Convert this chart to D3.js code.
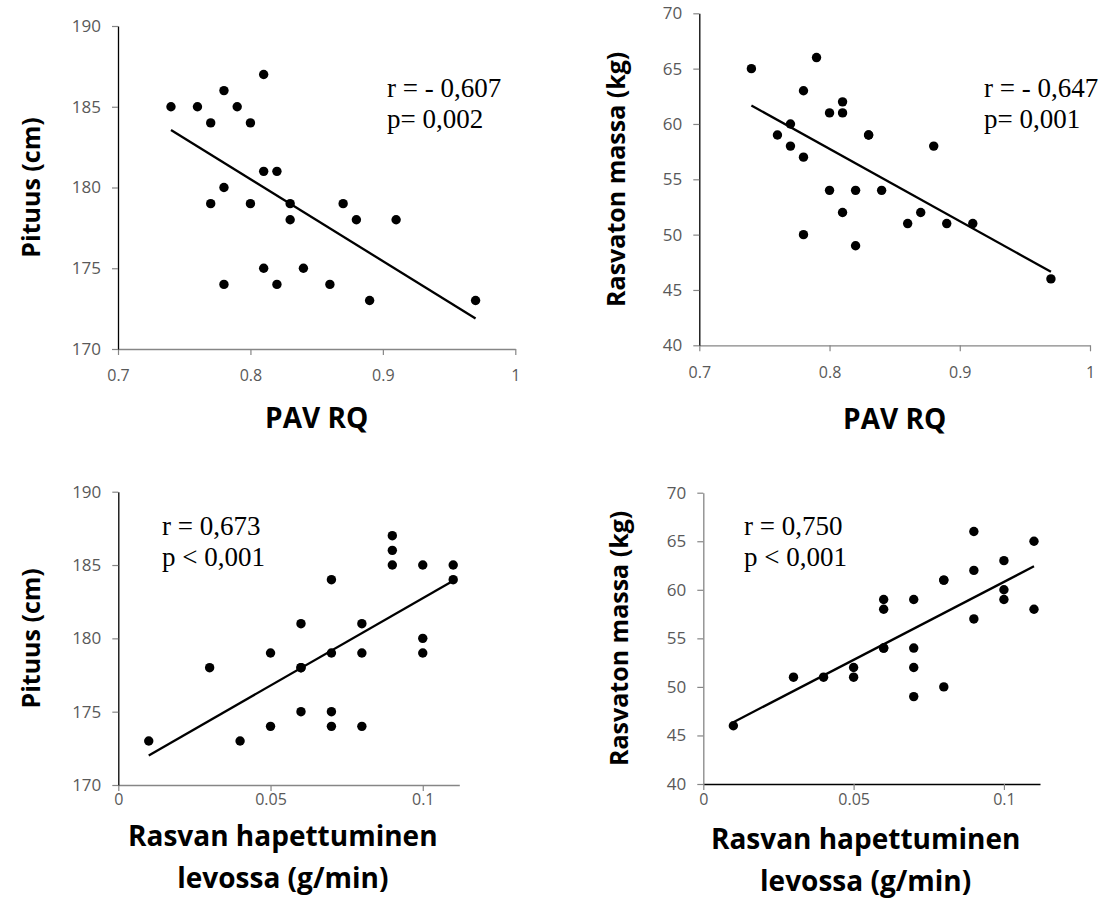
<!DOCTYPE html>
<html>
<head>
<meta charset="utf-8">
<script src="https://cdn.jsdelivr.net/npm/d3@7/dist/d3.min.js"></script>
<style>
  html, body { margin: 0; padding: 0; background: #fff; }
  svg { display: block; }
</style>
</head>
<body>
<svg id="chart" width="1104" height="917"></svg>
<script>
// PAV RQ vs height (24 subjects)
const rqForHeight = [0.74,0.76,0.77,0.78,0.79,0.80,0.81,0.81,0.82,0.78,0.77,0.80,0.83,0.83,0.87,0.88,0.91,0.81,0.84,0.78,0.82,0.86,0.89,0.97];
const heightByRq  = [185,185,184,186,185,184,187,181,181,180,179,179,179,178,179,178,178,175,175,174,174,174,173,173];

// PAV RQ vs fat-free mass
const rqForMass = [0.74,0.79,0.78,0.76,0.77,0.77,0.78,0.80,0.81,0.81,0.83,0.83,0.88,0.80,0.81,0.82,0.84,0.78,0.82,0.86,0.87,0.89,0.91,0.97];
const massByRq  = [65,66,63,59,60,58,57,61,62,61,59,59,58,54,52,54,54,50,49,51,52,51,51,46];

// Resting fat oxidation vs height
const fatForHeight = [0.01,0.03,0.04,0.05,0.05,0.06,0.06,0.06,0.06,0.07,0.07,0.07,0.07,0.08,0.08,0.08,0.09,0.09,0.09,0.10,0.10,0.10,0.11,0.11];
const heightByFat  = [173,178,173,179,174,181,178,178,175,184,179,175,174,181,179,174,187,186,185,185,180,179,185,184];

// Resting fat oxidation vs fat-free mass
const fatForMass = [0.01,0.03,0.04,0.05,0.05,0.06,0.06,0.06,0.06,0.07,0.07,0.07,0.07,0.08,0.08,0.08,0.09,0.09,0.09,0.10,0.10,0.10,0.11,0.11];
const massByFat  = [46,51,51,52,51,59,58,54,54,59,54,52,49,50,61,61,57,62,66,59,60,63,58,65];

// Axis ticks
const rqTicks = [0.7, 0.8, 0.9, 1];
const fatTicks = [0, 0.05, 0.1];
const heightTicks = [170, 175, 180, 185, 190];
const massTicks = [40, 45, 50, 55, 60, 65, 70];

// Titles and statistics
const heightTitle = "Pituus (cm)";
const massTitle = "Rasvaton massa (kg)";
const rqTitle = ["PAV RQ"];
const fatTitle = ["Rasvan hapettuminen", "levossa (g/min)"];
const stats1 = ["r = - 0,607", "p= 0,002"];
const stats2 = ["r = - 0,647", "p= 0,001"];
const stats3 = ["r = 0,673", "p < 0,001"];
const stats4 = ["r = 0,750", "p < 0,001"];

const panels = [
  { xs: rqForHeight, ys: heightByRq, xDomain: [0.7, 1], yDomain: [170, 190],
    xTicks: rqTicks, yTicks: heightTicks, left: 118, right: 515.3, top: 26, bottom: 349,
    xPad: 15, yTitle: heightTitle, yTitleX: 40, xTitle: rqTitle, xTitleY: [428],
    stats: stats1, statsX: 387, statsY: 97, yAxisColor: "#000", xAxisColor: "#868686" },
  { xs: rqForMass, ys: massByRq, xDomain: [0.7, 1], yDomain: [40, 70],
    xTicks: rqTicks, yTicks: massTicks, left: 699.3, right: 1090, top: 13.3, bottom: 345.3,
    xPad: 15, yTitle: massTitle, yTitleX: 625, xTitle: rqTitle, xTitleY: [429],
    stats: stats2, statsX: 984, statsY: 97, yAxisColor: "#000", xAxisColor: "#868686" },
  { xs: fatForHeight, ys: heightByFat, xDomain: [0, 0.112], yDomain: [170, 190],
    xTicks: fatTicks, yTicks: heightTicks, left: 118.3, right: 459.3, top: 491.7, bottom: 785,
    xPad: 3, yTitle: heightTitle, yTitleX: 40, xTitle: fatTitle, xTitleY: [846, 888],
    stats: stats3, statsX: 162, statsY: 535, yAxisColor: "#000", xAxisColor: "#868686" },
  { xs: fatForMass, ys: massByFat, xDomain: [0, 0.112], yDomain: [40, 70],
    xTicks: fatTicks, yTicks: massTicks, left: 703.3, right: 1040, top: 492.7, bottom: 784,
    xPad: 4, yTitle: massTitle, yTitleX: 628, xTitle: fatTitle, xTitleY: [849, 891],
    stats: stats4, statsX: 744, statsY: 535, yAxisColor: "#868686", xAxisColor: "#000" }
];

// Ordinary least-squares fit
function linearFit(xs, ys) {
  const mx = d3.mean(xs), my = d3.mean(ys);
  let sxy = 0, sxx = 0;
  xs.forEach((x, i) => { sxy += (x - mx) * (ys[i] - my); sxx += (x - mx) * (x - mx); });
  const slope = sxy / sxx;
  return x => my + slope * (x - mx);
}

const svg = d3.select("#chart");
svg.append("rect").attr("width", 1104).attr("height", 917).attr("fill", "#fff");

const tickFont = "'Open Sans', sans-serif";
const titleFont = "'Open Sans', sans-serif";
const statFont = "'Liberation Serif', 'Times New Roman', serif";

panels.forEach(p => {
  const x = d3.scaleLinear().domain(p.xDomain).range([p.left, p.right]);
  const y = d3.scaleLinear().domain(p.yDomain).range([p.bottom, p.top]);
  const g = svg.append("g");

  // X axis
  const xAxis = g.append("g")
    .attr("transform", `translate(0,${p.bottom})`)
    .call(d3.axisBottom(x).tickValues(p.xTicks).tickFormat(d => String(d))
      .tickSize(6).tickSizeOuter(0).tickPadding(p.xPad));
  xAxis.attr("font-size", null);
  xAxis.select(".domain").attr("stroke", p.xAxisColor).attr("stroke-width", 1.3);
  xAxis.selectAll(".tick line").attr("stroke", "#868686").attr("stroke-width", 1.2);
  xAxis.selectAll(".tick text")
    .attr("fill", "#595959").style("font-family", tickFont).style("font-size", "16px");

  // Y axis
  const yAxis = g.append("g")
    .attr("transform", `translate(${p.left},0)`)
    .call(d3.axisLeft(y).tickValues(p.yTicks).tickFormat(d => String(d))
      .tickSize(6).tickSizeOuter(0).tickPadding(11));
  yAxis.attr("font-size", null);
  yAxis.select(".domain").attr("stroke", p.yAxisColor).attr("stroke-width", 1.3);
  yAxis.selectAll(".tick line").attr("stroke", "#868686").attr("stroke-width", 1.2);
  yAxis.selectAll(".tick text")
    .attr("fill", "#595959").style("font-family", tickFont).style("font-size", "17px");

  // Regression line over the data's x range
  const fit = linearFit(p.xs, p.ys);
  const ext = d3.extent(p.xs);
  g.append("path")
    .attr("d", d3.line().x(d => x(d)).y(d => y(fit(d)))(ext))
    .attr("stroke", "#000").attr("stroke-width", 2.3).attr("fill", "none");

  // Points
  g.selectAll("circle.pt").data(p.xs.map((v, i) => [v, p.ys[i]]))
    .join("circle").attr("class", "pt")
    .attr("cx", d => x(d[0])).attr("cy", d => y(d[1])).attr("r", 4.7)
    .attr("fill", "#000");

  // Statistics text
  g.append("g").selectAll("text").data(p.stats).join("text")
    .attr("x", p.statsX).attr("y", (d, i) => p.statsY + i * 31)
    .style("font-family", statFont).style("font-size", "27px").attr("fill", "#000")
    .text(d => d);

  // Y title
  g.append("text")
    .attr("transform", `translate(${p.yTitleX},${(p.top + p.bottom) / 2}) rotate(-90)`)
    .attr("text-anchor", "middle")
    .style("font-family", titleFont).style("font-weight", "bold").style("font-size", "25px")
    .attr("fill", "#000").text(p.yTitle);

  // X title
  g.append("g").selectAll("text").data(p.xTitle).join("text")
    .attr("x", (p.left + p.right) / 2 - (p.xTitle.length > 1 ? 6 : 0))
    .attr("y", (d, i) => p.xTitleY[i])
    .attr("text-anchor", "middle")
    .style("font-family", titleFont).style("font-weight", "bold").style("font-size", "28px")
    .attr("fill", "#000").text(d => d);
});
</script>
</body>
</html>
